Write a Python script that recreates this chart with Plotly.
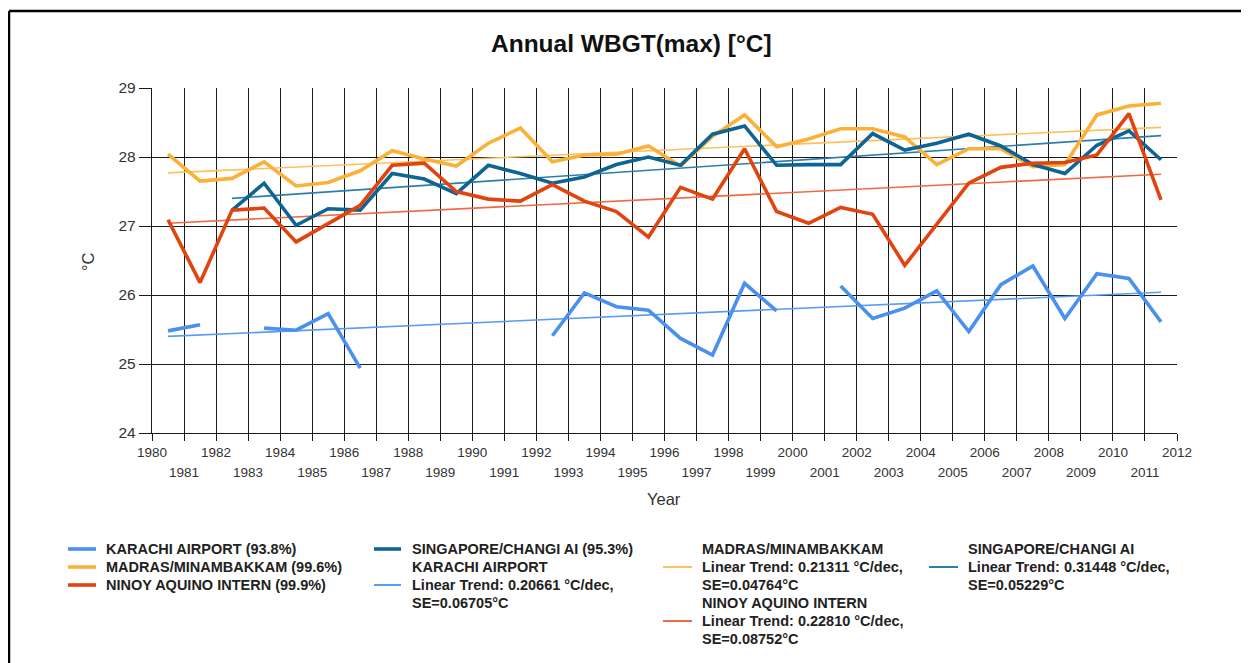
import plotly.graph_objects as go

years = [y + 0.5 for y in range(1980, 2012)]

karachi = [25.48, 25.57, None, 25.52, 25.49, 25.73, 24.94,
           None, None, None, None, None,
           25.41, 26.03, 25.83, 25.78, 25.37, 25.13, 26.17, 25.77,
           None,
           26.13, 25.66, 25.81, 26.06, 25.47, 26.15, 26.42, 25.66, 26.31, 26.24, 25.61]
madras = [28.04, 27.65, 27.69, 27.93, 27.58, 27.63, 27.80, 28.09, 27.97, 27.87,
          28.20, 28.42, 27.93, 28.03, 28.04, 28.16, 27.87, 28.30, 28.61, 28.15,
          28.26, 28.41, 28.41, 28.29, 27.89, 28.12, 28.12, 27.86, 27.89, 28.61,
          28.74, 28.78]
ninoy = [27.09, 26.18, 27.23, 27.26, 26.77, 27.04, 27.30, 27.88, 27.91, 27.50,
         27.39, 27.36, 27.60, 27.36, 27.21, 26.84, 27.56, 27.39, 28.12, 27.21,
         27.04, 27.27, 27.17, 26.43, 27.02, 27.62, 27.85, 27.91, 27.92, 28.03,
         28.63, 27.38]
singapore = [None, None, 27.23, 27.62, 27.01, 27.25, 27.23, 27.76, 27.68, 27.47,
             27.88, 27.76, 27.62, 27.71, 27.89, 28.00, 27.88, 28.33, 28.45, 27.88,
             27.89, 27.89, 28.34, 28.10, 28.20, 28.33, 28.16, 27.89, 27.76, 28.17,
             28.38, 27.96]

# trend line endpoints (year, value)
karachi_trend_x = [1980.5, 2011.5]
karachi_trend_y = [25.40, 26.04]
madras_trend_x = [1980.5, 2011.5]
madras_trend_y = [27.77, 28.43]
ninoy_trend_x = [1980.5, 2011.5]
ninoy_trend_y = [27.04, 27.75]
singapore_trend_x = [1982.5, 2011.5]
singapore_trend_y = [27.40, 28.31]

tick_years = list(range(1980, 2013))

C_KAR = "#4a90ee"
C_MAD = "#fbb138"
C_NIN = "#e0440f"
C_SIN = "#0e6593"

# page has an 8px body margin; figure is drawn at (8, 8)
OFF = 8
W, H = 1249 - OFF, 663 - OFF
L, R, T, B = 152, 1177, 88, 433  # plot area in page coordinates


def px(x):
    return (x - L) / (R - L)


def py(y):
    return (B - y) / (B - T)


fig = go.Figure()

# trend lines (thin)
for tx, ty, c in [(madras_trend_x, madras_trend_y, "#fcc15e"),
                  (singapore_trend_x, singapore_trend_y, "#2f7eaa"),
                  (ninoy_trend_x, ninoy_trend_y, "#ee6a45"),
                  (karachi_trend_x, karachi_trend_y, "#5a9cf2")]:
    fig.add_trace(go.Scatter(x=tx, y=ty, mode="lines",
                             line=dict(color=c, width=1.6), hoverinfo="skip"))

for ys, c in [(karachi, C_KAR), (madras, C_MAD), (singapore, C_SIN), (ninoy, C_NIN)]:
    fig.add_trace(go.Scatter(x=years, y=ys, mode="lines",
                             line=dict(color=c, width=3.6), connectgaps=False))

# dummy trace for second x axis (odd year labels)
fig.add_trace(go.Scatter(x=[None], y=[None], xaxis="x2", mode="lines", hoverinfo="skip"))

FAM = "Arial, Liberation Sans"
tickfont = dict(family=FAM, size=13.5, color="#333333")

fig.update_layout(
    width=W, height=H,
    margin=dict(l=L - OFF, r=W - (R - OFF), t=T - OFF, b=H - (B - OFF)),
    paper_bgcolor="white", plot_bgcolor="white",
    showlegend=False,
    xaxis=dict(range=[1980, 2012], tickvals=tick_years,
               ticktext=[str(y) if y % 2 == 0 else "" for y in tick_years],
               showgrid=True, gridcolor="#1a1a1a", gridwidth=1.3,
               ticks="outside", ticklen=7, tickcolor="#1a1a1a", tickwidth=1.3,
               showline=True, linecolor="#1a1a1a", linewidth=1.3,
               zeroline=False, tickfont=tickfont, tickangle=0),
    xaxis2=dict(range=[1980, 2012], overlaying="x", anchor="y", side="bottom",
                tickvals=[y for y in tick_years if y % 2 == 1],
                ticktext=[str(y) for y in tick_years if y % 2 == 1],
                showgrid=False, showline=False, zeroline=False, ticks="",
                ticklabelstandoff=29, tickfont=tickfont, tickangle=0),
    yaxis=dict(range=[24, 29], dtick=1, showgrid=True, gridcolor="#1a1a1a", gridwidth=1.3,
               ticks="outside", ticklen=12, tickcolor="#1a1a1a", tickwidth=1.3,
               showline=True, linecolor="#1a1a1a", linewidth=1.3, zeroline=False,
               tickfont=dict(family=FAM, size=15.5, color="#333333")),
)

ann = []
ann.append(dict(text="<b>Annual WBGT(max) [°C]</b>", x=px(631), y=py(44), xref="paper", yref="paper",
                showarrow=False, xanchor="center", yanchor="middle",
                font=dict(family=FAM, size=24.5, color="#111111")))
ann.append(dict(text="°C", x=px(88), y=py(262), xref="paper", yref="paper", textangle=-90,
                showarrow=False, xanchor="center", yanchor="middle",
                font=dict(family=FAM, size=16.5, color="#333333")))
ann.append(dict(text="Year", x=px(664), y=py(499), xref="paper", yref="paper",
                showarrow=False, xanchor="center", yanchor="middle",
                font=dict(family=FAM, size=16.5, color="#333333")))

lfont = dict(family=FAM, size=14.5, color="#222222")

legend_text = [
    (104, 549, "KARACHI AIRPORT (93.8%)"),
    (104, 567, "MADRAS/MINAMBAKKAM (99.6%)"),
    (104, 585, "NINOY AQUINO INTERN (99.9%)"),
    (410, 549, "SINGAPORE/CHANGI AI (95.3%)"),
    (410, 567, "KARACHI AIRPORT"),
    (410, 585, "Linear Trend: 0.20661 °C/dec,"),
    (410, 603, "SE=0.06705°C"),
    (700, 549, "MADRAS/MINAMBAKKAM"),
    (700, 567, "Linear Trend: 0.21311 °C/dec,"),
    (700, 585, "SE=0.04764°C"),
    (700, 603, "NINOY AQUINO INTERN"),
    (700, 621, "Linear Trend: 0.22810 °C/dec,"),
    (700, 639, "SE=0.08752°C"),
    (966, 549, "SINGAPORE/CHANGI AI"),
    (966, 567, "Linear Trend: 0.31448 °C/dec,"),
    (966, 585, "SE=0.05229°C"),
]
for x, y, t in legend_text:
    ann.append(dict(text="<b>" + t + "</b>", x=px(x), y=py(y), xref="paper", yref="paper",
                    showarrow=False, xanchor="left", yanchor="middle", font=lfont))

shapes = []
swatches = [
    (68, 96, 549, C_KAR, 3.6), (68, 96, 567, C_MAD, 3.6), (68, 96, 585, C_NIN, 3.6),
    (374, 401, 549, C_SIN, 3.6), (374, 401, 585, "#5a9cf2", 2),
    (663, 692, 567, "#fcc15e", 2), (663, 692, 621, "#ee6a45", 2),
    (929, 958, 567, "#2f7eaa", 2),
]
for x0, x1, y, c, w in swatches:
    shapes.append(dict(type="line", xref="paper", yref="paper", x0=px(x0), x1=px(x1),
                       y0=py(y), y1=py(y), line=dict(color=c, width=w)))

# outer frame (top and left edges)
shapes.append(dict(type="line", xref="paper", yref="paper", x0=px(9), x1=px(1249),
                   y0=py(11), y1=py(11), line=dict(color="black", width=2.5)))
shapes.append(dict(type="line", xref="paper", yref="paper", x0=px(9), x1=px(9),
                   y0=py(11), y1=py(663), line=dict(color="black", width=2.5)))

fig.update_layout(annotations=ann, shapes=shapes)

fig.write_html("out.html")
